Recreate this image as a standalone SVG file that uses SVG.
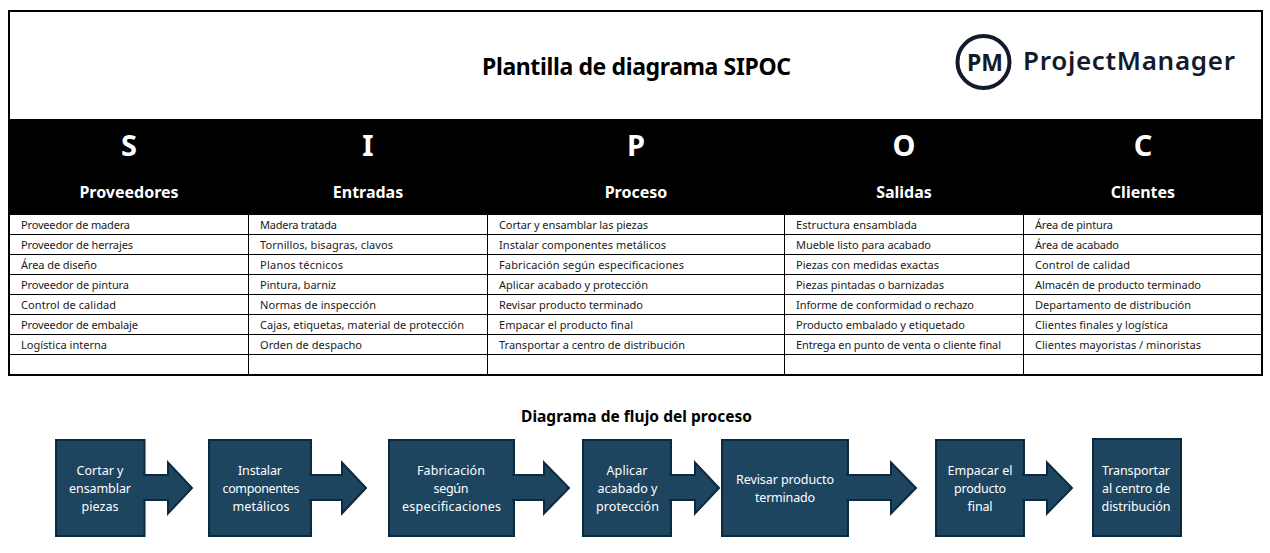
<svg xmlns="http://www.w3.org/2000/svg" width="1270" height="553" viewBox="0 0 1270 553">
<style>
text{font-family:"Noto Sans","Open Sans","Liberation Sans",sans-serif}
.t{font-size:11px;fill:#1a1a1a}
.g{stroke:#000;stroke-width:1;fill:none}
.b{fill:#1e4560;stroke:#0c2a3e;stroke-width:2}
.n{font-size:12.500px;fill:#fff;text-anchor:middle}
.l{font-size:29px;font-weight:700;fill:#fff;text-anchor:middle}
.h{font-size:16px;font-weight:700;fill:#fff;text-anchor:middle}
</style>
<rect width="1270" height="553" fill="#fff"/>
<g id="table">
<rect x="9" y="119" width="1253" height="96" fill="#000"/>
<path class="g" d="M9 234.500H1262M9 254.500H1262M9 274.500H1262M9 294.500H1262M9 314.500H1262M9 334.500H1262M9 354.500H1262M248.500 215V375M487.500 215V375M784.500 215V375M1023.500 215V375"/>
<rect x="9" y="11" width="1253" height="364" fill="none" stroke="#000" stroke-width="2"/>
<text x="636.500" y="75" text-anchor="middle" font-size="23" font-weight="700" fill="#000" textLength="309">Plantilla de diagrama SIPOC</text>
<circle cx="983.500" cy="62" r="26" fill="none" stroke="#131b2b" stroke-width="4"/>
<text x="985" y="71" text-anchor="middle" font-size="23" font-weight="700" fill="#131b2b" textLength="36">PM</text>
<text x="1023" y="70" font-size="26" font-weight="600" fill="#131b2b" textLength="212">ProjectManager</text>
<text class="l" x="129" y="156">S</text><text class="l" x="368" y="156">I</text><text class="l" x="636" y="156">P</text><text class="l" x="904" y="156">O</text><text class="l" x="1143" y="156">C</text>
<text class="h" x="129" y="198">Proveedores</text><text class="h" x="368" y="198">Entradas</text><text class="h" x="636" y="198">Proceso</text><text class="h" x="904" y="198">Salidas</text><text class="h" x="1143" y="198">Clientes</text>
<g class="t">
<text x="21" y="229" textLength="109">Proveedor de madera</text><text x="21" y="249" textLength="112">Proveedor de herrajes</text><text x="21" y="269" textLength="76">Área de diseño</text><text x="21" y="289" textLength="108">Proveedor de pintura</text><text x="21" y="309" textLength="95">Control de calidad</text><text x="21" y="329" textLength="117">Proveedor de embalaje</text><text x="21" y="349" textLength="86">Logística interna</text>
<text x="260" y="229" textLength="77">Madera tratada</text><text x="260" y="249" textLength="133">Tornillos, bisagras, clavos</text><text x="260" y="269" textLength="83">Planos técnicos</text><text x="260" y="289" textLength="76">Pintura, barniz</text><text x="260" y="309" textLength="116">Normas de inspección</text><text x="260" y="329" textLength="204">Cajas, etiquetas, material de protección</text><text x="260" y="349" textLength="102">Orden de despacho</text>
<text x="499" y="229" textLength="149">Cortar y ensamblar las piezas</text><text x="499" y="249" textLength="167">Instalar componentes metálicos</text><text x="499" y="269" textLength="185">Fabricación según especificaciones</text><text x="499" y="289" textLength="149">Aplicar acabado y protección</text><text x="499" y="309" textLength="144">Revisar producto terminado</text><text x="499" y="329" textLength="134">Empacar el producto final</text><text x="499" y="349" textLength="186">Transportar a centro de distribución</text>
<text x="796" y="229" textLength="121">Estructura ensamblada</text><text x="796" y="249" textLength="135">Mueble listo para acabado</text><text x="796" y="269" textLength="143">Piezas con medidas exactas</text><text x="796" y="289" textLength="148">Piezas pintadas o barnizadas</text><text x="796" y="309" textLength="178">Informe de conformidad o rechazo</text><text x="796" y="329" textLength="169">Producto embalado y etiquetado</text><text x="796" y="349" textLength="205">Entrega en punto de venta o cliente final</text>
<text x="1035" y="229" textLength="78">Área de pintura</text><text x="1035" y="249" textLength="84">Área de acabado</text><text x="1035" y="269" textLength="95">Control de calidad</text><text x="1035" y="289" textLength="166">Almacén de producto terminado</text><text x="1035" y="309" textLength="156">Departamento de distribución</text><text x="1035" y="329" textLength="133">Clientes finales y logística</text><text x="1035" y="349" textLength="166">Clientes mayoristas / minoristas</text>
</g>
</g>
<text x="636.500" y="422" text-anchor="middle" font-size="15.500" font-weight="700" fill="#000" textLength="231">Diagrama de flujo del proceso</text>
<g id="boxes">
<rect id="b1" class="b" x="56" y="440" width="88.500" height="96"/>
<rect id="b2" class="b" x="209" y="440" width="102" height="96"/>
<rect id="b3" class="b" x="389" y="440" width="125" height="96"/>
<rect id="b4" class="b" x="583" y="440" width="88" height="96"/>
<rect id="b5" class="b" x="722" y="440" width="126" height="96"/>
<rect id="b6" class="b" x="936" y="440" width="88" height="96"/>
<rect id="b7" class="b" x="1093" y="439" width="88" height="97"/>
</g>
<g id="connectors">
<path class="b" d="M143 475H168V462.500L192 488L168 513.500V500H143"/>
<path class="b" d="M309 475H342V462.500L366 488L342 513.500V500H309"/>
<path class="b" d="M512 475H544V462.500L569 488L544 513.500V500H512"/>
<path class="b" d="M669 475H695V462.500L719 488L695 513.500V500H669"/>
<path class="b" d="M846 475H891V462.500L916 488L891 513.500V500H846"/>
<path class="b" d="M1022 475H1047V462.500L1072 488L1047 513.500V500H1022"/>
</g>
<g id="n1"><text class="n" x="100" y="475" textLength="47">Cortar y</text><text class="n" x="100" y="493" textLength="62">ensamblar</text><text class="n" x="100" y="511" textLength="37">piezas</text></g>
<g id="n2"><text class="n" x="260" y="475" textLength="44">Instalar</text><text class="n" x="261" y="493" textLength="77">componentes</text><text class="n" x="261" y="511" textLength="57">metálicos</text></g>
<g id="n3"><text class="n" x="451" y="475" textLength="68">Fabricación</text><text class="n" x="451" y="493" textLength="35">según</text><text class="n" x="451.500" y="511" textLength="99">especificaciones</text></g>
<g id="n4"><text class="n" x="627" y="475" textLength="41">Aplicar</text><text class="n" x="627.500" y="493" textLength="60">acabado y</text><text class="n" x="627.500" y="511" textLength="63">protección</text></g>
<g id="n5"><text class="n" x="785" y="484" textLength="98">Revisar producto</text><text class="n" x="785" y="502" textLength="60">terminado</text></g>
<g id="n6"><text class="n" x="980" y="475" textLength="65">Empacar el</text><text class="n" x="980" y="493" textLength="52">producto</text><text class="n" x="980" y="511" textLength="25">final</text></g>
<g id="n7"><text class="n" x="1136" y="475" textLength="68">Transportar</text><text class="n" x="1136" y="493" textLength="68">al centro de</text><text class="n" x="1136" y="511" textLength="69">distribución</text></g>
</svg>
